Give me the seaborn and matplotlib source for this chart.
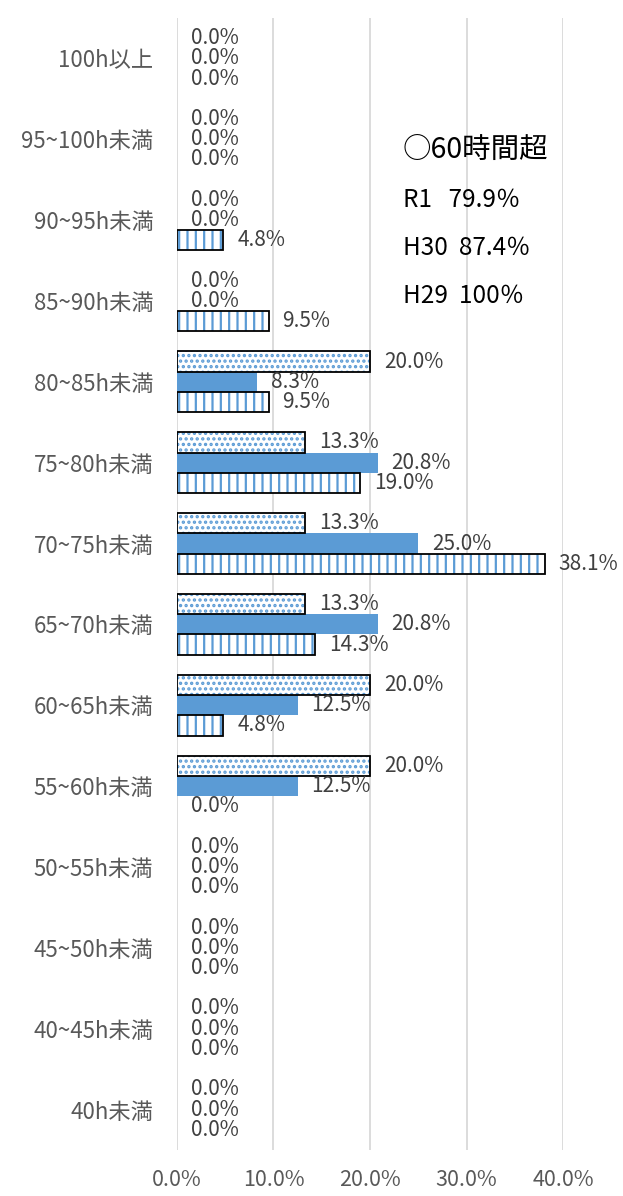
import pandas as pd
import matplotlib
matplotlib.use('Agg')
import matplotlib.pyplot as plt
from matplotlib.patches import Rectangle
import seaborn as sns

# Hours-worked bands (top to bottom)
categories = ['100h以上', '95~100h未満', '90~95h未満', '85~90h未満', '80~85h未満',
              '75~80h未満', '70~75h未満', '65~70h未満', '60~65h未満', '55~60h未満',
              '50~55h未満', '45~50h未満', '40~45h未満', '40h未満']

# Share of staff per band (%)
r1_pct = [0.0, 0.0, 0.0, 0.0, 20.0, 13.3, 13.3, 13.3, 20.0, 20.0, 0.0, 0.0, 0.0, 0.0]
h30_pct = [0.0, 0.0, 0.0, 0.0, 8.3, 20.8, 25.0, 20.8, 12.5, 12.5, 0.0, 0.0, 0.0, 0.0]
h29_pct = [0.0, 0.0, 4.8, 9.5, 9.5, 19.0, 38.1, 14.3, 4.8, 0.0, 0.0, 0.0, 0.0, 0.0]

series = ['R1', 'H30', 'H29']
xticks = [0, 10, 20, 30, 40]

note_lines = ['○60時間超', 'R1   79.9％', 'H30  87.4％', 'H29  100％']

df = pd.DataFrame({
    'category': categories * 3,
    'series': [s for s in series for _ in categories],
    'pct': r1_pct + h30_pct + h29_pct,
})

blue = '#5B9BD5'
grey_txt = '#595959'

sns.set_style('white')
plt.rcParams['font.family'] = ['Noto Sans CJK JP', 'DejaVu Sans']
plt.rcParams['hatch.linewidth'] = 1.6

fig = plt.figure(figsize=(6.23, 11.96), dpi=100)
ax = fig.add_axes([0.284, 0.0385, 0.62, 0.9465])

sns.barplot(data=df, x='pct', y='category', hue='series', hue_order=series,
            order=categories, orient='h', width=0.75,
            palette=['white', blue, 'white'], saturation=1, legend=False, ax=ax)

# patterned series: blue hatch, black outline drawn on top
hatches = {0: '...', 2: '||'}
for i, cont in enumerate(ax.containers):
    if i in hatches:
        for bar in cont:
            bar.set_hatch(hatches[i])
            bar.set_edgecolor(blue)
            bar.set_linewidth(0)
            if bar.get_width() > 0:
                ax.add_patch(Rectangle(bar.get_xy(), bar.get_width(), bar.get_height(),
                                       fill=False, edgecolor='black', linewidth=1.3, zorder=3))
    else:
        for bar in cont:
            bar.set_linewidth(0)
    vals = [b.get_width() for b in cont]
    ax.bar_label(cont, labels=[f'{v:.1f}%' for v in vals], padding=10,
                 fontsize=15, color='#404040')

ax.set_xlim(0, 40)
ax.set_xticks(xticks)
ax.set_xticklabels([f'{t:.1f}%' for t in xticks])
ax.tick_params(axis='x', length=0, pad=14, labelsize=15.5, labelcolor=grey_txt)
ax.tick_params(axis='y', length=0, pad=17, labelsize=16, labelcolor=grey_txt)
ax.set_xlabel('')
ax.set_ylabel('')
ax.grid(axis='x', color='#D9D9D9', linewidth=1.3)
ax.set_axisbelow(True)
for s in ax.spines.values():
    s.set_visible(False)

ys = [0.883, 0.839, 0.797, 0.754]
sizes = [20.5, 17.5, 17.5, 17.5]
for txt, y, fs in zip(note_lines, ys, sizes):
    ax.text(0.585, y, txt, transform=ax.transAxes, fontsize=fs, color='black',
            va='center', ha='left')

fig.savefig('out.png', dpi=100)
